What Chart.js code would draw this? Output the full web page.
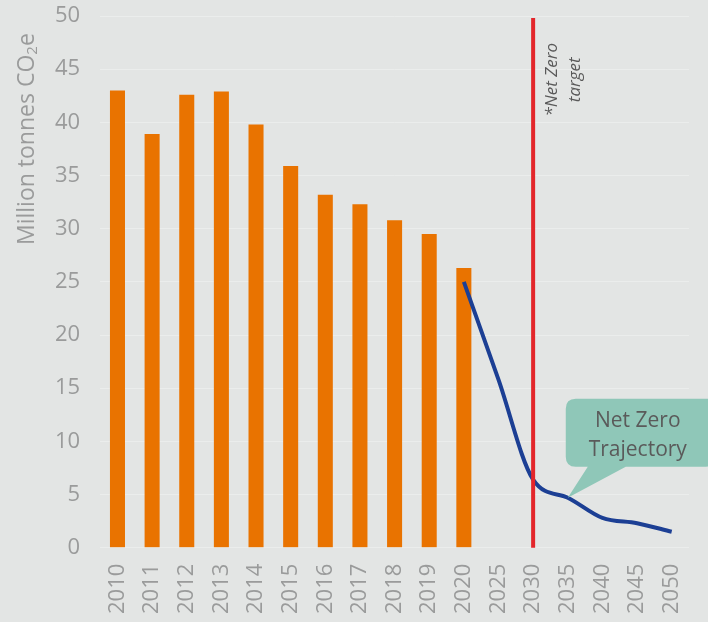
<!DOCTYPE html>
<html lang="en">
<head>
  <meta charset="UTF-8">
  <title>Emissions and Net Zero Trajectory</title>
  <script src="https://cdn.jsdelivr.net/npm/chart.js"></script>
  <style>
    body { margin: 0; background: #e3e5e4; }
    canvas { display: block; }
  </style>
</head>
<body>
  <canvas id="emissions" width="708" height="622"></canvas>

  <script>
    // years on the x axis (history then 5-year steps)
    const years = ['2010', '2011', '2012', '2013', '2014', '2015', '2016', '2017', '2018', '2019', '2020',
                   '2025', '2030', '2035', '2040', '2045', '2050'];
    // actual emissions, million tonnes CO2e
    const actual = [43, 38.9, 42.6, 42.9, 39.8, 35.9, 33.2, 32.3, 30.8, 29.5, 26.3,
                    null, null, null, null, null, null];
    // net zero trajectory
    const trajectory = [null, null, null, null, null, null, null, null, null, null, 25,
                        15.8, 6.4, 4.7, 2.8, 2.3, 1.5];
    const yTicks = [0, 5, 10, 15, 20, 25, 30, 35, 40, 45, 50];
    const targetYear = '2030';
    const calloutYear = '2035';

    const grey = '#9a9b9b';
    const fontFam = '"Open Sans", "DejaVu Sans", sans-serif';

    // background, axis title, red target line and the two notes
    const extras = {
      id: 'extras',
      beforeDraw(chart) {
        const c = chart.ctx;
        c.save();
        c.fillStyle = '#e3e5e4';
        c.fillRect(0, 0, chart.width, chart.height);
        c.restore();
      },
      afterDraw(chart) {
        // y axis title with a real subscript 2
        const c = chart.ctx;
        c.save();
        c.translate(27, 245);
        c.rotate(-Math.PI / 2);
        c.fillStyle = grey;
        c.textAlign = 'left';
        c.textBaseline = 'middle';
        c.font = '23px ' + fontFam;
        const main = 'Million tonnes CO';
        c.fillText(main, 0, 0);
        let w = c.measureText(main).width;
        c.font = '15px ' + fontFam;
        c.fillText('2', w, 6);
        w += c.measureText('2').width;
        c.font = '23px ' + fontFam;
        c.fillText('e', w, 0);
        c.restore();
      },
      afterDatasetsDraw(chart) {
        const c = chart.ctx;
        const x = chart.scales.x;
        const y = chart.scales.y;
        const area = chart.chartArea;

        // target line
        const tx = x.getPixelForValue(years.indexOf(targetYear));
        c.save();
        c.strokeStyle = '#e3262b';
        c.lineWidth = 4;
        c.beginPath();
        c.moveTo(tx, area.top + 2);
        c.lineTo(tx, area.bottom);
        c.stroke();

        // rotated note, reads bottom to top
        c.translate(tx + 30, y.getPixelForValue(44));
        c.rotate(-Math.PI / 2);
        c.fillStyle = '#595959';
        c.font = 'italic 17px ' + fontFam;
        c.textAlign = 'center';
        c.textBaseline = 'middle';
        c.fillText('*Net Zero', 0, -11);
        c.fillText('target', 0, 12);
        c.restore();

        // callout bubble
        const ci = years.indexOf(calloutYear);
        const px = x.getPixelForValue(ci);
        const py = y.getPixelForValue(trajectory[ci]);
        const bx = px - 2, by = py - 99, bw = 150, bh = 68, r = 10;
        c.save();
        c.fillStyle = '#8fc7b8';
        c.beginPath();
        c.moveTo(bx + r, by);
        c.lineTo(bx + bw - r, by);
        c.quadraticCurveTo(bx + bw, by, bx + bw, by + r);
        c.lineTo(bx + bw, by + bh - r);
        c.quadraticCurveTo(bx + bw, by + bh, bx + bw - r, by + bh);
        c.lineTo(px + 58, by + bh);
        c.lineTo(px, py);
        c.lineTo(px + 20, by + bh);
        c.lineTo(bx + r, by + bh);
        c.quadraticCurveTo(bx, by + bh, bx, by + bh - r);
        c.lineTo(bx, by + r);
        c.quadraticCurveTo(bx, by, bx + r, by);
        c.closePath();
        c.fill();
        c.fillStyle = '#5a5a5a';
        c.font = '21px ' + fontFam;
        c.textAlign = 'center';
        c.textBaseline = 'middle';
        c.fillText('Net Zero', bx + 72, by + 22);
        c.fillText('Trajectory', bx + 72, by + 51);
        c.restore();
      }
    };

    const ctx = document.getElementById('emissions').getContext('2d');
    const chart = new Chart(ctx, {
      type: 'bar',
      data: {
        labels: years,
        datasets: [{
          type: 'line',
          label: 'Net Zero Trajectory',
          data: trajectory,
          borderColor: '#1c3f94',
          borderWidth: 4,
          pointRadius: 0,
          cubicInterpolationMode: 'monotone',
          spanGaps: false,
          order: 0
        }, {
          label: 'Emissions',
          data: actual,
          backgroundColor: '#e97300',
          barPercentage: 0.62,
          categoryPercentage: 0.7,
          order: 1
        }]
      },
      options: {
        responsive: false,
        animation: false,
        layout: { padding: { left: 35, right: 19, top: 16, bottom: 0 } },
        plugins: {
          legend: { display: false },
          tooltip: { enabled: false }
        },
        scales: {
          x: {
            grid: { display: false },
            border: { display: false },
            ticks: {
              color: grey,
              font: { family: fontFam, size: 22 },
              minRotation: 90,
              maxRotation: 90,
              padding: 8
            }
          },
          y: {
            min: 0,
            max: 50,
            afterBuildTicks(axis) {
              axis.ticks = yTicks.map(v => ({ value: v }));
            },
            afterFit(axis) {
              axis.paddingTop = 0;
            },
            grid: { color: '#ebedec', lineWidth: 1, drawTicks: false },
            border: { display: false },
            ticks: {
              color: grey,
              font: { family: fontFam, size: 22 },
              padding: 20
            }
          }
        }
      },
      plugins: [extras]
    });
  </script>
</body>
</html>
